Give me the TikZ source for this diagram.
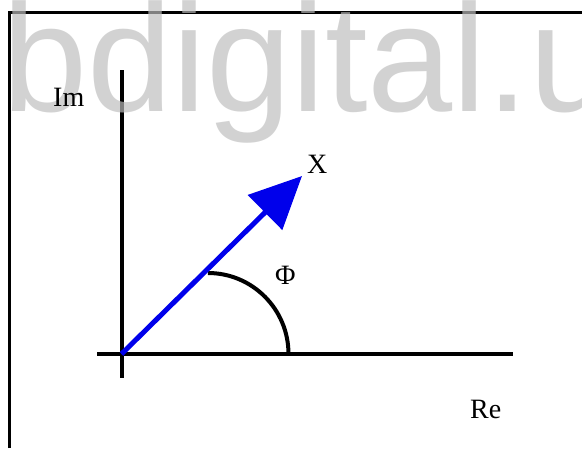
\documentclass[tikz,border=0pt]{standalone}
\usepackage{fontspec}
\setmainfont{Liberation Serif}
\newfontfamily\wmfont{Liberation Sans}
\usetikzlibrary{arrows.meta}
\definecolor{vecblue}{RGB}{0,0,235}
\definecolor{wmgray}{RGB}{190,190,190}
\tikzset{
  axisline/.style={line width=4pt, black},
  framelin/.style={line width=2.6pt, black},
  vecline/.style={line width=5pt, vecblue, -{Triangle[length=52pt,width=48pt]}},
  anglearc/.style={line width=4pt, black},
  lbl/.style={anchor=base west, inner sep=0pt, font=\fontsize{28}{28}\selectfont},
  watermark/.style={anchor=base west, inner sep=0pt, text=wmgray, opacity=0.68, font=\wmfont\fontsize{153}{153}\selectfont}
}
\begin{document}
\begin{tikzpicture}[x=1pt,y=-1pt]
\clip (0,0) rectangle (582,448);
\fill[white] (0,0) rectangle (582,448);
% frame
\draw[framelin] (9.5,448) -- (9.5,12.5) -- (582,12.5);
% axes
\coordinate (O) at (121.5,354);
\coordinate (yTop) at (121.5,70);
\coordinate (yBot) at (121.5,378);
\coordinate (xLeft) at (97,354);
\coordinate (xRight) at (513,354);
\draw[axisline] (yTop) -- (yBot);
\draw[axisline] (xLeft) -- (xRight);
% angle arc
\coordinate (arcStart) at (208,273);
\draw[anglearc] (arcStart) arc[start angle=90, end angle=0, x radius=80.5, y radius=-81];
% vector
\coordinate (tip) at (302,176);
\draw[vecline] (O) -- (tip);
% watermark
\node[watermark] (wm) at (2,111) {bdigital.u};
% labels
\node[lbl] (im) at (53,106) {Im};
\node[lbl] (re) at (470,418) {Re};
\node[lbl] (xl) at (307,173) {X};
\node[lbl] (phi) at (275,284) {Φ};
\end{tikzpicture}
\end{document}
